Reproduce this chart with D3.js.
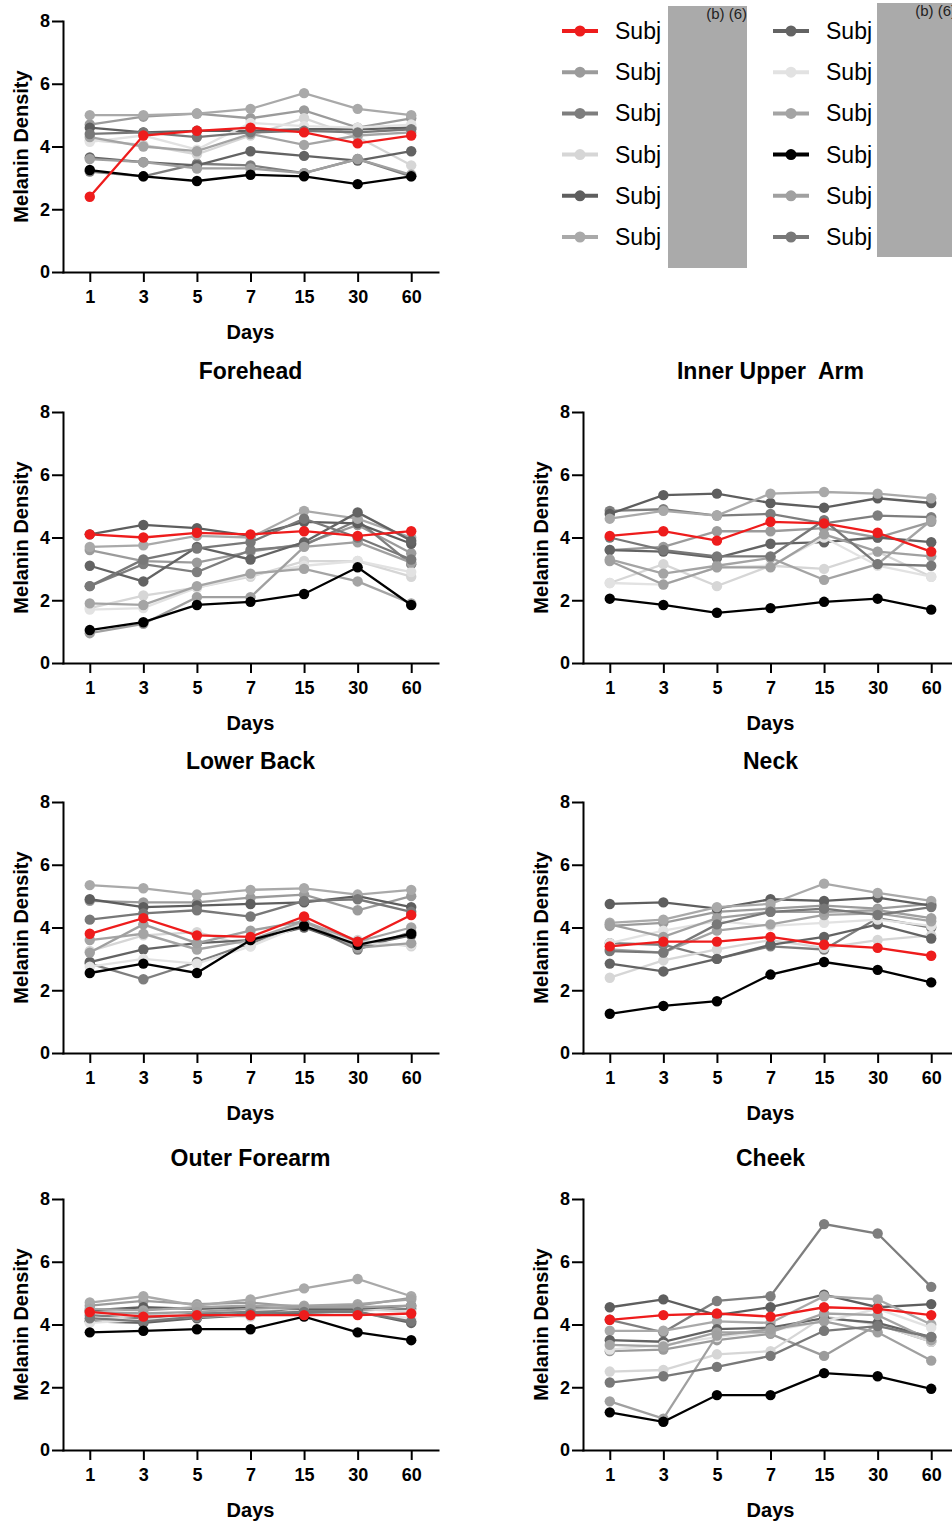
<!DOCTYPE html>
<html>
<head>
<meta charset="utf-8">
<script src="https://cdn.jsdelivr.net/npm/d3@7"></script>
<style>
  body { margin: 0; background: #fff; }
  svg { display: block; font-family: "Liberation Sans", Arial, sans-serif; }
  .axis path, .axis line { stroke: #000; stroke-width: 2px; }
  .axis text { font-size: 18px; font-weight: bold; fill: #000; }
  .label { font-size: 20px; font-weight: bold; fill: #000; }
  .title { font-size: 23px; font-weight: bold; fill: #000; white-space: pre; }
</style>
</head>
<body>
<div id="chart"></div>
<script>
(function () {

  // ---- data ----
  var days = ["1", "3", "5", "7", "15", "30", "60"]
  var yTicks = [0, 2, 4, 6, 8]

  var subjects = ["Subj", "Subj", "Subj", "Subj", "Subj", "Subj",
                  "Subj", "Subj", "Subj", "Subj", "Subj", "Subj"]
  var subjectColors = ["#ee1c1c", "#9b9b9b", "#7e7e7e", "#d6d6d6", "#5e5e5e", "#a9a9a9",
                       "#636363", "#e2e2e2", "#a4a4a4", "#000000", "#a0a0a0", "#787878"]

  var siteTitles = ["", "Forehead", "Inner Upper  Arm", "Lower Back", "Neck", "Outer Forearm", "Cheek"]

  // one row per subject, one value per day
  var firstSite = [
    [2.4, 4.35, 4.5, 4.6, 4.45, 4.1, 4.35],
    [4.7, 4.95, 5.05, 4.9, 5.15, 4.6, 4.9],
    [3.2, 3.05, 3.45, 3.4, 3.15, 3.6, 3.05],
    [4.2, 4.05, 3.75, 4.35, 4.9, 4.3, 3.4],
    [4.6, 4.45, 4.5, 4.5, 4.55, 4.55, 4.6],
    [5.0, 5.0, 5.05, 5.2, 5.7, 5.2, 5.0],
    [3.65, 3.5, 3.4, 3.85, 3.7, 3.55, 3.85],
    [4.15, 4.35, 3.9, 4.75, 4.65, 4.6, 4.7],
    [4.3, 4.0, 3.85, 4.4, 4.05, 4.35, 4.45],
    [3.25, 3.05, 2.9, 3.1, 3.05, 2.8, 3.05],
    [3.6, 3.5, 3.3, 3.3, 3.15, 3.6, 3.1],
    [4.4, 4.45, 4.3, 4.45, 4.5, 4.45, 4.55]
  ]

  var forehead = [
    [4.1, 4.0, 4.15, 4.1, 4.2, 4.05, 4.2],
    [3.6, 3.25, 3.2, 3.55, 3.8, 4.4, 3.5],
    [2.45, 3.15, 2.9, 3.6, 3.75, 4.55, 3.15],
    [1.75, 2.15, 2.4, 2.75, 3.25, 3.25, 2.75],
    [4.1, 4.4, 4.3, 4.05, 4.5, 4.45, 3.8],
    [3.7, 3.75, 4.05, 4.0, 4.85, 4.6, 4.0],
    [3.1, 2.6, 3.7, 3.3, 3.85, 4.8, 3.9],
    [1.7, 1.75, 2.4, 2.8, 3.1, 3.25, 2.9],
    [1.9, 1.85, 2.45, 2.85, 3.0, 2.6, 1.9],
    [1.05, 1.3, 1.85, 1.95, 2.2, 3.05, 1.85],
    [0.95, 1.25, 2.1, 2.1, 3.7, 3.85, 3.2],
    [2.45, 3.3, 3.65, 3.85, 4.6, 4.0, 3.3]
  ]

  var innerUpperArm = [
    [4.05, 4.2, 3.9, 4.5, 4.45, 4.15, 3.55],
    [3.6, 3.7, 4.2, 4.2, 4.3, 4.0, 4.5],
    [4.85, 4.9, 4.7, 4.75, 4.45, 4.7, 4.65],
    [2.55, 3.15, 2.45, 3.1, 3.0, 3.55, 2.75],
    [4.75, 5.35, 5.4, 5.1, 4.95, 5.25, 5.1],
    [4.6, 4.85, 4.7, 5.4, 5.45, 5.4, 5.25],
    [3.6, 3.55, 3.35, 3.8, 3.85, 4.0, 3.85],
    [2.55, 2.5, 3.05, 3.1, 4.0, 3.1, 2.75],
    [3.3, 2.85, 3.1, 3.35, 2.65, 3.15, 4.55],
    [2.05, 1.85, 1.6, 1.75, 1.95, 2.05, 1.7],
    [3.25, 2.5, 3.05, 3.05, 4.1, 3.55, 3.4],
    [4.0, 3.6, 3.4, 3.4, 4.55, 3.15, 3.1]
  ]

  var lowerBack = [
    [3.8, 4.3, 3.75, 3.7, 4.35, 3.55, 4.4],
    [4.85, 4.8, 4.8, 4.95, 5.05, 4.55, 5.0],
    [2.85, 2.35, 2.9, 3.5, 4.1, 3.3, 3.85],
    [3.25, 3.75, 3.85, 3.4, 4.15, 3.6, 3.4],
    [4.9, 4.65, 4.7, 4.75, 4.8, 5.0, 4.65],
    [5.35, 5.25, 5.05, 5.2, 5.25, 5.05, 5.2],
    [2.9, 3.3, 3.5, 3.6, 4.0, 3.4, 3.75],
    [2.75, 3.0, 2.85, 3.4, 4.1, 3.5, 3.45],
    [3.6, 3.8, 3.3, 3.6, 4.2, 3.55, 4.0],
    [2.55, 2.85, 2.55, 3.6, 4.05, 3.45, 3.8],
    [3.2, 4.1, 3.5, 3.9, 4.2, 3.35, 3.5],
    [4.25, 4.45, 4.55, 4.35, 4.85, 4.9, 4.5]
  ]

  var neck = [
    [3.4, 3.55, 3.55, 3.7, 3.45, 3.35, 3.1],
    [4.05, 4.15, 4.5, 4.6, 4.7, 4.6, 4.75],
    [3.5, 3.45, 3.0, 3.4, 3.3, 4.3, 4.0],
    [2.4, 2.95, 3.3, 3.6, 3.35, 3.6, 3.75],
    [4.75, 4.8, 4.6, 4.9, 4.85, 4.95, 4.7],
    [4.15, 4.25, 4.65, 4.75, 5.4, 5.1, 4.85],
    [2.85, 2.6, 3.0, 3.45, 3.7, 4.1, 3.65],
    [3.5, 3.9, 4.2, 4.05, 4.15, 4.25, 4.05],
    [3.3, 3.2, 3.9, 4.1, 4.4, 4.45, 4.2],
    [1.25, 1.5, 1.65, 2.5, 2.9, 2.65, 2.25],
    [4.1, 3.7, 4.3, 4.5, 4.5, 4.55, 4.3],
    [3.25, 3.2, 4.1, 4.5, 4.6, 4.4, 4.65]
  ]

  var outerForearm = [
    [4.4, 4.25, 4.3, 4.3, 4.3, 4.3, 4.35],
    [4.6, 4.75, 4.65, 4.7, 4.55, 4.6, 4.85],
    [4.3, 4.2, 4.35, 4.4, 4.45, 4.45, 4.5],
    [4.15, 4.3, 4.3, 4.25, 4.5, 4.5, 4.4],
    [4.45, 4.55, 4.5, 4.55, 4.5, 4.5, 4.6],
    [4.7, 4.9, 4.6, 4.8, 5.15, 5.45, 4.9],
    [4.1, 4.05, 4.2, 4.3, 4.35, 4.4, 4.05],
    [4.05, 4.15, 4.25, 4.3, 4.3, 4.35, 4.2],
    [4.5, 4.45, 4.55, 4.6, 4.6, 4.65, 4.8],
    [3.75, 3.8, 3.85, 3.85, 4.25, 3.75, 3.5],
    [4.4, 4.35, 4.4, 4.5, 4.55, 4.55, 4.6],
    [4.2, 4.1, 4.25, 4.35, 4.4, 4.4, 4.1]
  ]

  var cheek = [
    [4.15, 4.3, 4.35, 4.25, 4.55, 4.5, 4.3],
    [3.15, 3.2, 3.5, 3.7, 3.0, 4.0, 3.45],
    [4.15, 3.75, 4.75, 4.9, 7.2, 6.9, 5.2],
    [2.5, 2.55, 3.05, 3.15, 4.25, 4.0, 3.45],
    [4.55, 4.8, 4.3, 4.55, 4.95, 4.55, 4.65],
    [3.8, 3.8, 4.1, 4.05, 4.9, 4.8, 4.0],
    [3.5, 3.45, 3.85, 3.9, 4.2, 4.05, 3.6],
    [3.2, 3.35, 3.6, 3.8, 4.1, 4.5, 3.9],
    [3.35, 3.3, 3.75, 3.75, 4.35, 4.3, 3.5],
    [1.2, 0.9, 1.75, 1.75, 2.45, 2.35, 1.95],
    [1.55, 1.0, 3.65, 3.85, 4.1, 3.75, 2.85],
    [2.15, 2.35, 2.65, 3.0, 3.8, 3.95, 3.6]
  ]

  var sites = [firstSite, forehead, innerUpperArm, lowerBack, neck, outerForearm, cheek]

  // ---- layout ----
  var panelPos = [[63, 21], [63, 412], [583, 412], [63, 802], [583, 802], [63, 1199], [583, 1199]]
  var plotWidth = 375,
      plotHeight = 251

  // grays first, then black, red on top
  var drawOrder = [1, 2, 3, 4, 5, 6, 7, 8, 10, 11, 9, 0]

  var svg = d3.select("#chart").append("svg")
    .attr("width", 952)
    .attr("height", 1526)

  var xPositionScale = d3.scalePoint()
    .domain(days)
    .range([0, plotWidth])
    .padding(0.5)

  var yPositionScale = d3.scaleLinear()
    .domain([0, 8])
    .range([plotHeight, 0])

  var line = d3.line()
    .x(function (d, i) { return xPositionScale(days[i]) })
    .y(function (d) { return yPositionScale(d) })

  sites.forEach(function (site, p) {
    var g = svg.append("g")
      .attr("transform", "translate(" + panelPos[p][0] + "," + panelPos[p][1] + ")")

    if (siteTitles[p]) {
      g.append("text")
        .attr("class", "title")
        .attr("x", plotWidth / 2)
        .attr("y", -33)
        .attr("text-anchor", "middle")
        .text(siteTitles[p])
    }

    var series = drawOrder.map(function (i) {
      return { subject: i, values: site[i] }
    })

    var s = g.selectAll(".subject")
      .data(series)
      .enter().append("g")
      .attr("class", "subject")

    s.append("path")
      .attr("d", function (d) { return line(d.values) })
      .attr("fill", "none")
      .attr("stroke", function (d) { return subjectColors[d.subject] })
      .attr("stroke-width", 2.3)

    s.selectAll("circle")
      .data(function (d) {
        return d.values.map(function (v, i) { return { subject: d.subject, day: days[i], value: v } })
      })
      .enter().append("circle")
      .attr("r", 5.2)
      .attr("cx", function (d) { return xPositionScale(d.day) })
      .attr("cy", function (d) { return yPositionScale(d.value) })
      .attr("fill", function (d) { return subjectColors[d.subject] })

    var yAxis = d3.axisLeft(yPositionScale)
      .tickValues(yTicks)
      .tickSize(11)
      .tickSizeOuter(0)
      .tickPadding(2)
    g.append("g")
      .attr("class", "axis y-axis")
      .call(yAxis)

    var xAxis = d3.axisBottom(xPositionScale)
      .tickSize(10)
      .tickSizeOuter(0)
      .tickPadding(8)
    g.append("g")
      .attr("class", "axis x-axis")
      .attr("transform", "translate(0," + plotHeight + ")")
      .call(xAxis)

    g.selectAll(".axis .domain").attr("stroke-linecap", "square")

    g.append("text")
      .attr("class", "label")
      .attr("x", plotWidth / 2)
      .attr("y", plotHeight + 67)
      .attr("text-anchor", "middle")
      .text("Days")

    g.append("text")
      .attr("class", "label")
      .attr("transform", "translate(-35," + (plotHeight / 2) + ") rotate(-90)")
      .attr("text-anchor", "middle")
      .text("Melanin Density")
  })

  // ---- legend ----
  var legendCols = [{ x: 562, box: [668, 6, 79, 262] }, { x: 773, box: [877, 3, 80, 254] }]

  legendCols.forEach(function (col, c) {
    for (var r = 0; r < 6; r++) {
      var i = c * 6 + r
      var cy = 31 + r * 41.2
      svg.append("line")
        .attr("x1", col.x).attr("x2", col.x + 36)
        .attr("y1", cy).attr("y2", cy)
        .attr("stroke", subjectColors[i])
        .attr("stroke-width", 4)
      svg.append("circle")
        .attr("cx", col.x + 18).attr("cy", cy)
        .attr("r", 5.5)
        .attr("fill", subjectColors[i])
      svg.append("text")
        .attr("x", col.x + 53)
        .attr("y", cy + 8)
        .attr("font-size", 23)
        .attr("fill", "#000")
        .text(subjects[i])
    }
    svg.append("rect")
      .attr("x", col.box[0]).attr("y", col.box[1])
      .attr("width", col.box[2]).attr("height", col.box[3])
      .attr("fill", "#aaaaaa")
    // redaction label; the right one runs past the page edge as in the source
    svg.append("text")
      .attr("x", col.box[0] + 79)
      .attr("y", col.box[1] + 13)
      .attr("text-anchor", "end")
      .attr("font-size", 15)
      .attr("fill", "#222")
      .text("(b) (6)")
  })

})()
</script>
</body>
</html>
